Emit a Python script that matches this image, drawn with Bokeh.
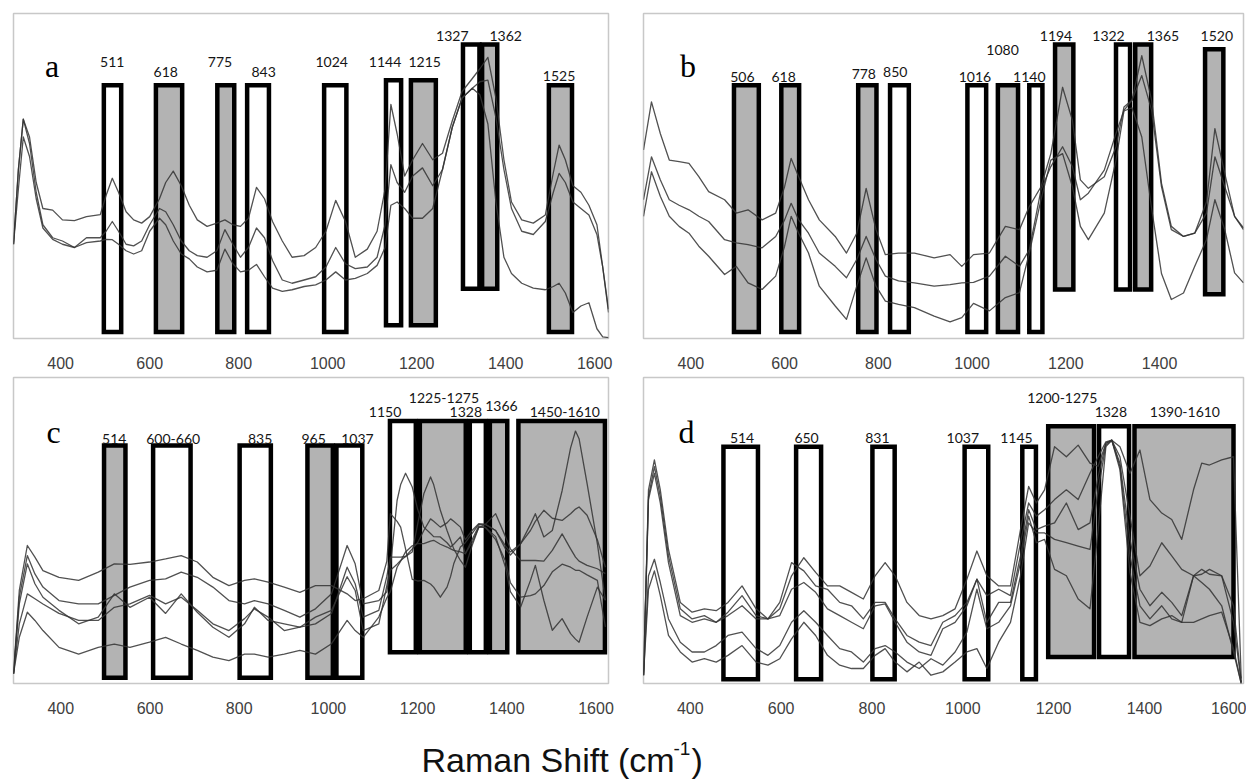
from bokeh.plotting import figure
from bokeh.layouts import column, row
from bokeh.models import Range1d, FixedTicker, ColumnDataSource
from bokeh.core.properties import value
from bokeh.embed import file_html
from bokeh.resources import INLINE

TICKS = [400, 600, 800, 1000, 1200, 1400, 1600]

# ---------------- panel a : three spectra ----------------
a_shift = [294, 305, 316, 330, 345, 360, 382, 404, 431, 458, 489, 502, 516, 530, 547, 564, 582, 600, 622, 636,
           653, 671, 689, 707, 729, 751, 769, 787, 804, 822, 840, 858, 876, 898, 920, 947, 973, 996, 1018, 1040,
           1062, 1089, 1111, 1129, 1142, 1156, 1173, 1191, 1213, 1236, 1258, 1280, 1302, 1325, 1342, 1360, 1378, 1396, 1413, 1436,
           1462, 1489, 1507, 1520, 1534, 1551, 1569, 1587, 1605, 1618, 1631]
a_s1 = [29, 52, 67.5, 62, 48, 40, 39.5, 36.5, 36.3, 37.5, 38.1, 44, 49.3, 45, 39, 36.5, 35.5, 37.5, 43, 48,
        51.5, 47, 41, 36.5, 34.5, 35.5, 36.5, 35, 34.5, 37, 46.5, 43, 36, 30, 25, 25.5, 28, 33, 42.5, 36,
        25, 27.5, 33, 46, 72, 63, 50, 55, 60, 55, 57, 67, 76, 80, 83, 86.5, 74, 55, 42, 36.5,
        35.5, 38, 51, 59.5, 55, 47, 45, 41, 35, 22, 8]
a_s2 = [29, 52, 67.5, 60, 45, 35, 31, 30, 28, 31, 31, 33, 36, 33, 29, 28.5, 30, 35, 40, 39,
        35, 30, 27, 25.5, 25, 27, 33.5, 29, 25, 28, 34, 31, 24, 18, 17, 18, 19, 22, 28, 23,
        21.5, 22, 25, 35, 53.5, 48, 45, 50, 52.5, 47, 52, 65, 74, 77, 79, 79.5, 68, 52, 40, 33,
        32, 36, 45, 50.8, 48, 42, 40, 38, 32, 22, 9]
a_s3 = [29, 46, 62, 56, 43, 34, 30.5, 29, 28, 29.5, 30, 30.5, 30.4, 29, 27, 26, 27, 33, 37, 35,
        30, 26, 24.5, 22, 20.5, 21, 27.5, 23, 20.5, 21, 22.8, 19, 15.5, 14.5, 15, 16, 16.5, 18, 20.5, 18,
        18.5, 20, 22.5, 28, 41, 42, 40, 37, 37, 40, 52, 65, 74, 77, 75, 66, 42, 25, 20, 17,
        15.5, 15, 16, 17, 14, 8, 10, 11, 3, 0.5, 0.3]
a_band_label = ["511", "618", "775", "843", "1024", "1144", "1215", "1327", "1362", "1525"]
a_band_lo = [497, 614, 752, 819, 992, 1131, 1187, 1304, 1347, 1497]
a_band_hi = [536, 673, 790, 868, 1042, 1165, 1243, 1341, 1381, 1549]
a_band_kind = ["white", "gray", "gray", "white", "white", "white", "gray", "white", "gray", "gray"]

# ---------------- panel b : three spectra ----------------
b_shift = [299, 316, 335, 354, 375, 396, 417, 438, 472, 497, 522, 552, 581, 600, 614, 630, 651, 674, 708, 732,
           754, 774, 795, 815, 843, 877, 919, 953, 978, 1003, 1037, 1071, 1101, 1122, 1147, 1168, 1193, 1214, 1231, 1248,
           1282, 1307, 1324, 1341, 1362, 1383, 1404, 1425, 1451, 1475, 1500, 1518, 1539, 1560, 1579]
b_s1 = [58.0, 72.8, 63.0, 54.9, 54.4, 53.9, 49.8, 45.2, 42.7, 38.6, 39.6, 36.5, 38.6, 46.7, 55.4, 49.8, 42.7, 36.5, 31.4, 26.3,
        32.4, 46.2, 33.5, 25.8, 26.3, 26.3, 24.8, 25.8, 22.2, 25.8, 26.3, 34.5, 33.5, 40.6, 46.7, 56.9, 77.3, 67.1, 48.8, 46.2,
        49.8, 59.0, 71.2, 73.3, 87.0, 73.3, 47.8, 34.5, 31.4, 32.4, 42.0, 64.6, 50.8, 37.6, 34.0]
b_s2 = [42.7, 55.9, 48.8, 42.7, 41.0, 39.6, 37.6, 36.0, 30.4, 29.4, 28.9, 27.9, 31.4, 36.5, 41.6, 36.5, 32.4, 26.3, 22.2, 18.7,
        24.3, 31.4, 24.3, 19.2, 17.7, 17.1, 16.1, 16.6, 17.1, 17.3, 19.2, 25.3, 22.2, 27.3, 45.7, 52.9, 59.0, 52.9, 42.7, 44.7,
        51.8, 63.1, 70.2, 73.3, 80.9, 70.2, 46.7, 33.5, 31.4, 32.4, 38.6, 55.9, 46.7, 37.6, 33.5]
b_s3 = [37.6, 51.3, 43.7, 37.6, 34.5, 32.4, 28.4, 25.3, 19.7, 22.2, 17.1, 15.1, 19.2, 28.4, 37.6, 32.4, 26.3, 16.1, 10.0, 5.9,
        16.1, 24.8, 16.1, 11.5, 10.5, 9.5, 6.9, 5.1, 6.4, 10.8, 8.5, 12.6, 14.1, 26.3, 42.7, 54.9, 56.9, 46.7, 34.5, 30.4,
        38.6, 54.9, 70.0, 71.0, 62.0, 40.0, 20.0, 12.0, 14.0, 22.2, 30.4, 42.7, 33.5, 20.2, 17.1]
b_band_label = ["506", "618", "778", "850", "1016", "1080", "1140", "1194", "1322", "1365", "1520"]
b_band_lo = [492, 593, 757, 825, 990, 1055, 1122, 1177, 1307, 1348, 1497]
b_band_hi = [545, 631, 796, 865, 1030, 1098, 1150, 1216, 1337, 1382, 1536]
b_band_kind = ["gray", "gray", "gray", "white", "white", "gray", "white", "gray", "white", "gray", "gray"]

# ---------------- panel c : five spectra ----------------
c_shift = [294, 307, 325, 342, 360, 396, 440, 484, 520, 555, 599, 635, 670, 706, 741, 777, 812, 834, 865, 901,
           936, 971, 1007, 1042, 1060, 1078, 1113,
           1131, 1139, 1154, 1162, 1173, 1188, 1200, 1214, 1229, 1236, 1251, 1266, 1274, 1281, 1296, 1307, 1322, 1337,
           1352, 1375, 1397, 1408, 1431, 1453, 1464, 1483, 1502, 1524, 1543, 1554, 1562, 1580, 1603, 1621]
c_s1 = [3.2, 30.4, 45.1, 41.3, 36.9, 34.7, 33.7, 36.4, 39.1, 38.9, 39.7, 40.7, 41.8, 39.7, 34.7, 32.0, 33.7, 34.2, 33.1, 31.5,
        29.8, 32.0, 32.0, 29.3, 27.1, 27.7, 30.4,
        40, 55.5, 53, 51.1, 44, 34, 33.5, 33.7, 32.5, 31.5, 28.2, 31.5, 35, 39.1, 44.6, 46, 49, 52,
        52, 50, 45, 43, 45.7, 52, 55.5, 47.9, 50, 63, 77, 82.5, 80, 65.3, 45.7, 27.2]
c_s2 = [3.2, 28.2, 41.8, 35.8, 31.5, 27.1, 26.0, 26.0, 28.8, 31.5, 33.7, 34.2, 36.4, 34.7, 31.5, 27.1, 26.0, 27.1, 26.0, 23.9,
        21.7, 24.4, 29.3, 45.1, 39.1, 26.0, 27.1,
        30, 37, 39, 40.2, 41.5, 43, 52, 62, 67.5, 65, 56.6, 50, 46.8, 44, 40.2, 38, 45, 51,
        52, 50, 44, 42, 45.7, 50, 53, 56.6, 54, 53.3, 55.5, 57, 57.7, 55, 47, 38]
c_s3 = [3.2, 26.0, 39.1, 32.6, 28.2, 23.9, 19.5, 21.7, 29.3, 24.9, 28.2, 22.9, 29.3, 23.3, 18.4, 15.1, 19.5, 24.9, 20.6, 19.5,
        18.4, 19.5, 22.9, 38.0, 32.6, 21.7, 23.9,
        35, 41.3, 41.3, 41.3, 41.5, 44, 46, 50, 53.8, 53, 51.1, 52.5, 53.8, 53, 51.1, 47, 50, 52.2,
        52, 55.5, 48, 44, 40.2, 40.2, 40.2, 40, 43.5, 48.9, 44, 41.3, 40, 38.6, 37.5, 35.9]
c_s4 = [3.2, 19.5, 29.3, 27.7, 26.0, 22.9, 20.6, 20.6, 24.9, 26.0, 28.8, 26.0, 28.2, 23.9, 19.5, 17.3, 21.2, 24.4, 21.7, 17.3,
        18.4, 21.7, 23.9, 34.9, 30.4, 17.3, 19.5,
        32, 38, 59.8, 65, 68.7, 64.2, 57, 51.1, 49, 48, 47.9, 46, 44.6, 45.5, 47.9, 42.4, 46, 51,
        51, 48, 38, 30, 25, 33.7, 38.6, 27.2, 17.4, 21.2, 16.3, 14.5, 13.5, 21.7, 31.5, 27.2]
c_s5 = [3.2, 15.1, 23.3, 20.6, 17.3, 11.8, 9.6, 11.8, 12.9, 11.8, 13.5, 15.1, 12.9, 10.8, 8.6, 7.5, 9.6, 9.6, 8.6, 9.6,
        10.8, 9.6, 13.0, 20.6, 17.3, 15.1, 21.7,
        28, 30, 38, 40, 43, 45, 45.7, 45.7, 46.5, 46.8, 45.5, 44.6, 44, 43.5, 43, 42.4, 47, 51.5,
        51, 47, 40, 33, 28.2, 28.7, 29.3, 32, 36.5, 39, 38, 37, 37, 35.5, 33.7, 18.5]
c_band_label = ["514", "600-660", "835", "965", "1037", "1150", "1225-1275", "1328", "1366", "1450-1610"]
c_band_lo = [497, 607, 801, 953, 1018, 1138, 1205, 1317, 1362, 1426]
c_band_hi = [545, 691, 871, 1010, 1076, 1196, 1308, 1353, 1401, 1620]
c_band_kind = ["gray", "white", "white", "gray", "white", "white", "gray", "white", "gray", "gray"]

# ---------------- panel d : five spectra ----------------
d_shift = [297, 308, 321, 334, 352, 378, 404, 431, 457, 483, 514, 545, 571, 597, 623, 650, 676, 702, 729, 755,
           781, 807, 829, 851, 877, 904, 930, 956, 983, 1009, 1031, 1053, 1079, 1105, 1127, 1145, 1162, 1180, 1202, 1228,
           1254, 1280, 1298, 1315, 1328, 1346, 1368, 1390, 1412, 1438, 1460, 1482, 1508, 1526, 1543, 1570, 1596, 1613]
d_s1 = [2.7, 63.3, 73.1, 63.3, 43.8, 26.5, 23.3, 24.4, 23.8, 26.5, 31.9, 24.4, 21.1, 24.4, 35.2, 41.1, 36.3, 31.9, 31.9, 29.8,
        27.6, 35.2, 39.5, 35.2, 26.5, 22.2, 21.1, 22.2, 24.4, 34.1, 43.3, 35.2, 31.9, 31.9, 50.3, 64.4, 59.0, 63.3, 77.4, 74.1,
        77.9, 72.0, 71.0, 78.5, 79.5, 77.4, 68.7, 76.3, 60.1, 55.7, 53.6, 47.1, 63.3, 72.0, 71.4, 73.1, 74.1, 1.6]
d_s2 = [2.7, 61.1, 70.9, 61.1, 41.7, 24.4, 21.1, 22.2, 20.0, 23.3, 28.7, 22.2, 21.1, 26.5, 39.5, 36.8, 31.9, 30.8, 26.5, 25.4,
        21.1, 26.5, 26.5, 21.1, 15.7, 13.5, 12.4, 20.0, 22.2, 26.5, 34.1, 28.7, 30.8, 28.7, 46.0, 59.0, 54.7, 56.8, 60.1, 63.3,
        60.1, 68.7, 74.1, 79.0, 79.5, 74.1, 54.7, 35.2, 38.4, 46.0, 41.7, 37.3, 35.2, 35.7, 37.3, 35.2, 25.4, 0.5]
d_s3 = [2.7, 60.1, 68.7, 59.0, 39.5, 22.2, 20.0, 21.1, 20.0, 22.2, 25.4, 21.1, 21.1, 22.2, 30.8, 33.0, 29.8, 24.4, 22.2, 20.0,
        17.9, 25.4, 26.0, 20.0, 13.5, 10.3, 9.2, 17.9, 20.0, 25.4, 34.1, 20.0, 26.5, 26.5, 41.7, 56.8, 50.3, 51.4, 52.5, 59.0,
        50.3, 52.5, 67.6, 78.5, 79.5, 72.0, 47.1, 30.8, 25.4, 29.8, 26.5, 22.2, 35.2, 37.3, 35.7, 35.2, 20.0, 0.5]
d_s4 = [2.7, 35.2, 40.6, 33.0, 21.1, 13.5, 10.3, 10.3, 12.4, 15.7, 16.8, 11.4, 9.2, 12.4, 20.0, 23.8, 20.0, 15.7, 11.4, 10.3,
        7.0, 11.4, 12.4, 10.3, 7.0, 4.9, 8.1, 6.0, 10.3, 16.8, 30.8, 17.9, 20.0, 25.4, 39.5, 54.7, 46.0, 47.1, 37.3, 35.2,
        27.6, 24.4, 50.3, 77.4, 79.5, 70.9, 41.7, 25.4, 21.1, 25.4, 21.1, 20.0, 35.2, 33.0, 30.8, 25.4, 10.3, 0.0]
d_s5 = [2.7, 30.8, 36.8, 28.7, 15.7, 10.3, 7.0, 8.1, 7.0, 9.2, 12.4, 7.0, 6.0, 8.1, 14.6, 20.0, 15.7, 9.2, 6.0, 4.9,
        4.9, 9.2, 11.4, 7.0, 3.8, 7.0, 2.7, 3.8, 7.0, 10.3, 11.4, 4.9, 13.5, 20.0, 35.2, 52.5, 49.2, 49.2, 47.1, 46.0,
        44.9, 43.8, 63.3, 77.9, 79.5, 69.8, 36.3, 20.0, 18.9, 21.1, 22.2, 20.0, 20.0, 21.1, 22.2, 23.3, 11.4, 0.0]
d_band_label = ["514", "650", "831", "1037", "1145", "1200-1275", "1328", "1390-1610"]
d_band_lo = [473, 633, 801, 1004, 1131, 1188, 1300, 1378]
d_band_hi = [549, 688, 850, 1056, 1161, 1289, 1366, 1596]
d_band_kind = ["white", "white", "white", "white", "white", "gray", "white", "gray"]

# ---------------- layout-only values (box heights, label placement) ----------------
a_box_bottom = [2, 2, 2, 2, 2, 4.1, 4.1, 15.3, 15.3, 2]
a_box_top = [77.9, 77.9, 77.9, 77.9, 77.9, 79.5, 79.5, 90.5, 90.5, 77.9]
a_lab_x = [516, 636, 758, 856, 1009, 1129, 1218, 1280, 1400, 1520]
a_lab_y = [85, 81.9, 85, 81.9, 85, 85, 85, 93.2, 93.2, 80.9]

b_box_bottom = [2, 2, 2, 2, 2, 2, 2, 15.1, 15.1, 15.1, 13.6]
b_box_top = [77.9, 77.9, 77.9, 77.9, 77.9, 77.9, 77.9, 90.5, 90.5, 90.5, 89]
b_lab_x = [510, 598, 769, 836, 1006, 1065, 1122, 1179, 1291, 1407, 1522]
b_lab_y = [80.6, 80.6, 81.4, 81.9, 80.6, 88.8, 80.6, 93.2, 93.2, 93.2, 93.2]

c_box_bottom = [1.9, 1.9, 1.9, 1.9, 1.9, 10.2, 10.2, 10.2, 10.2, 10.2]
c_box_top = [77.8, 77.8, 77.8, 77.8, 77.8, 85.8, 85.8, 85.8, 85.8, 85.8]
c_lab_x = [520, 652, 847, 967, 1065, 1127, 1259, 1308, 1388, 1530]
c_lab_y = [80, 80, 80, 80, 80, 88.7, 93.4, 88.7, 90.8, 88.7]

d_box_bottom = [1.4, 1.4, 1.4, 1.4, 1.4, 8.7, 8.7, 8.7]
d_box_top = [77.4, 77.4, 77.4, 77.4, 77.4, 84.1, 84.1, 84.1]
d_lab_x = [514, 656, 812, 1000, 1118, 1219, 1326, 1489]
d_lab_y = [80.1, 80.1, 80.1, 80.1, 80.1, 93.4, 88.7, 88.7]

KIND_COLOR = {"gray": "#b3b3b3", "white": "#ffffff"}


def make_panel(letter, letter_xy, xr, width, height, borders, shift, series,
               lo, hi, kind, bottom, top, lab, lab_x, lab_y, ticks):
    bl, br, bt, bb = borders
    p = figure(width=width, height=height, x_range=Range1d(*xr), y_range=Range1d(0, 100),
               y_axis_location=None, toolbar_location=None, output_backend="svg",
               min_border_left=bl, min_border_right=br, min_border_top=bt, min_border_bottom=bb)
    p.xgrid.visible = False
    p.ygrid.visible = False
    p.outline_line_color = "#c8c8c8"
    p.outline_line_width = 1.5
    ax = p.xaxis[0]
    ax.ticker = FixedTicker(ticks=ticks)
    ax.axis_line_color = None
    ax.major_tick_line_color = None
    ax.minor_tick_line_color = None
    ax.major_label_text_font = "Liberation Sans"
    ax.major_label_text_font_size = "16px"
    ax.major_label_text_color = "#404040"
    ax.major_label_standoff = 12

    src = ColumnDataSource(dict(left=lo, right=hi, bottom=bottom, top=top,
                                color=[KIND_COLOR[k] for k in kind]))
    p.quad(left="left", right="right", bottom="bottom", top="top", source=src,
           fill_color="color", line_color="black", line_width=4.5, line_join="miter")
    for s in series:
        p.line(shift, s, line_color="#333333", line_width=1.3, line_alpha=0.85, line_join="round")
    p.text(x=lab_x, y=lab_y, text=lab, text_align="center", text_baseline="middle",
           text_font=value("Lato"), text_font_size=value("14px"), text_color="#151515")
    p.text(x=[letter_xy[0]], y=[letter_xy[1]], text=[letter], text_align="left",
           text_baseline="alphabetic", text_font=value("Liberation Serif"),
           text_font_size=value("32px"), text_color="black")
    return p


# widths/heights chosen so the frames sit where the reference frames are
pa = make_panel("a", (365, 84), (294, 1631), 625, 372, (13, 17, 13, 34), a_shift, [a_s1, a_s2, a_s3],
                a_band_lo, a_band_hi, a_band_kind, a_box_bottom, a_box_top, a_band_label, a_lab_x, a_lab_y, TICKS)
pb = make_panel("b", (377, 84), (299, 1579), 621, 372, (18, 3, 13, 33), b_shift, [b_s1, b_s2, b_s3],
                b_band_lo, b_band_hi, b_band_kind, b_box_bottom, b_box_top, b_band_label, b_lab_x, b_lab_y, TICKS)
pc = make_panel("c", (368, 82.1), (294, 1628), 625, 346, (13, 17, 5, 35), c_shift, [c_s1, c_s2, c_s3, c_s4, c_s5],
                c_band_lo, c_band_hi, c_band_kind, c_box_bottom, c_box_top, c_band_label, c_lab_x, c_lab_y, TICKS)
pd_ = make_panel("d", (374, 82.2), (297, 1618), 621, 346, (18, 3, 5, 33), d_shift, [d_s1, d_s2, d_s3, d_s4, d_s5],
                 d_band_lo, d_band_hi, d_band_kind, d_box_bottom, d_box_top, d_band_label, d_lab_x, d_lab_y, TICKS)

# shared x-axis title
pt = figure(width=1246, height=63, x_range=Range1d(0, 1246), y_range=Range1d(0, 63),
            x_axis_location=None, y_axis_location=None, toolbar_location=None,
            output_backend="svg", min_border=0)
pt.outline_line_color = None
pt.xgrid.visible = False
pt.ygrid.visible = False
pt.text(x=[421], y=[22], text=["Raman Shift (cm"], text_align="left", text_baseline="alphabetic",
        text_font=value("Liberation Sans"), text_font_size=value("34px"), text_color="#111111")
pt.text(x=[673], y=[33], text=["-1"], text_align="left", text_baseline="alphabetic",
        text_font=value("Liberation Sans"), text_font_size=value("19px"), text_color="#111111")
pt.text(x=[691], y=[22], text=[")"], text_align="left", text_baseline="alphabetic",
        text_font=value("Liberation Sans"), text_font_size=value("34px"), text_color="#111111")

layout = column(row(pa, pb), row(pc, pd_), pt)

with open("out.html", "w") as f:
    f.write(file_html(layout, INLINE))
